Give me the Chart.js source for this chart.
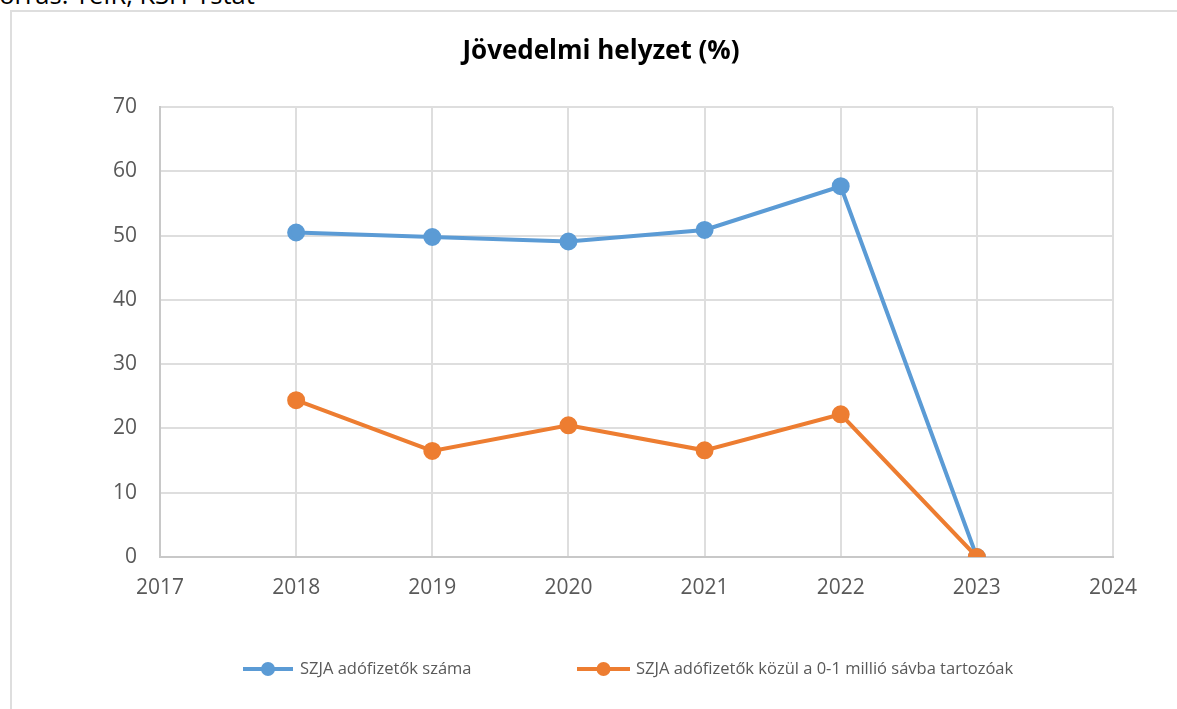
<!DOCTYPE html>
<html lang="hu">
<head>
<meta charset="utf-8">
<title>Jövedelmi helyzet</title>
<script src="https://cdn.jsdelivr.net/npm/chart.js@4.4.1/dist/chart.umd.min.js"></script>
<style>
  body { margin: 0; background: #fff; overflow: hidden; font-family: 'Open Sans', sans-serif; }
  #forras { position: absolute; left: -14px; top: -23px; font-size: 25.5px; color: #000; white-space: nowrap; }
  #doboz { position: absolute; left: 10px; top: 10px; width: 1200px; height: 740px; border: 2px solid #dedede; box-sizing: border-box; }
  #tarto { position: absolute; left: 11px; top: 11px; width: 1180px; height: 698px; }
</style>
</head>
<body>
<div id="forras">Forrás: TeIR, KSH-Ystat</div>
<div id="doboz"></div>
<div id="tarto"><canvas id="grafikon"></canvas></div>
<script>
const evek = [2018, 2019, 2020, 2021, 2022, 2023];
const adofizetok = [50.5, 49.8, 49.1, 50.9, 57.7, 0];
const alsoSav = [24.4, 16.5, 20.5, 16.6, 22.2, 0];
const sorozatNevek = ['SZJA adófizetők száma', 'SZJA adófizetők közül a 0-1 millió sávba tartozóak'];
const xMin = 2017, xMax = 2024;
const yMin = 0, yMax = 70, yLepes = 10;

const kek = '#5b9bd5';
const narancs = '#ed7d31';
const szurke = '#595959';

function pontok(ertekek) {
  return evek.map((ev, i) => ({ x: ev, y: ertekek[i] }));
}

// saját jelmagyarázat: vonal + kör, Excel-szerűen
const jelmagyarazat = {
  id: 'jelmagyarazat',
  afterDraw(chart) {
    const ctx = chart.ctx;
    const y = chart.chartArea.bottom + 112;
    const helyek = [{ x1: 232, x2: 282, szoveg: 289 }, { x1: 566, x2: 619, szoveg: 625 }];
    chart.data.datasets.forEach((ds, i) => {
      const h = helyek[i];
      ctx.save();
      ctx.strokeStyle = ds.borderColor;
      ctx.lineWidth = 4;
      ctx.beginPath();
      ctx.moveTo(h.x1, y);
      ctx.lineTo(h.x2, y);
      ctx.stroke();
      ctx.fillStyle = ds.borderColor;
      ctx.beginPath();
      ctx.arc((h.x1 + h.x2) / 2, y, 7, 0, Math.PI * 2);
      ctx.fill();
      ctx.fillStyle = szurke;
      ctx.font = '16.5px "Open Sans"';
      ctx.textBaseline = 'middle';
      ctx.fillText(ds.label, h.szoveg, y);
      ctx.restore();
    });
  }
};

new Chart(document.getElementById('grafikon'), {
  type: 'line',
  data: {
    datasets: [{
      label: sorozatNevek[0],
      data: pontok(adofizetok),
      borderColor: kek,
      backgroundColor: kek,
      borderWidth: 4,
      pointRadius: 7,
      pointHoverRadius: 7,
      order: 2
    }, {
      label: sorozatNevek[1],
      data: pontok(alsoSav),
      borderColor: narancs,
      backgroundColor: narancs,
      borderWidth: 4,
      pointRadius: 7,
      pointHoverRadius: 7,
      order: 1
    }]
  },
  options: {
    responsive: true,
    maintainAspectRatio: false,
    animation: false,
    layout: { padding: { left: 0, right: 0, top: 0, bottom: 102 } },
    plugins: {
      legend: { display: false },
      tooltip: { enabled: false },
      title: {
        display: true,
        text: 'Jövedelmi helyzet (%)',
        color: '#000',
        font: { family: 'Open Sans', size: 26, weight: 'bold' },
        padding: { top: 25, bottom: 40 }
      }
    },
    scales: {
      x: {
        type: 'linear',
        min: xMin,
        max: xMax,
        afterFit(s) { s.height = 50; },
        ticks: {
          stepSize: 1,
          color: szurke,
          padding: 18,
          font: { family: 'Open Sans', size: 21 },
          callback: v => String(v)
        },
        grid: { color: '#dedede', lineWidth: 2, drawTicks: false },
        border: { color: '#c8c8c8', width: 2 }
      },
      y: {
        min: yMin,
        max: yMax,
        afterFit(s) { s.width = 149; },
        ticks: {
          stepSize: yLepes,
          color: szurke,
          padding: 23,
          font: { family: 'Open Sans', size: 21 }
        },
        grid: { color: '#dedede', lineWidth: 2, drawTicks: false },
        border: { color: '#c8c8c8', width: 2 }
      },
      // üres jobb oldali sáv, hogy a cím a teljes szélességre legyen középre igazítva
      jobb: {
        position: 'right',
        afterFit(s) { s.width = 78; },
        ticks: { display: false },
        grid: { display: false },
        border: { display: false }
      }
    }
  },
  plugins: [jelmagyarazat]
});
</script>
</body>
</html>
